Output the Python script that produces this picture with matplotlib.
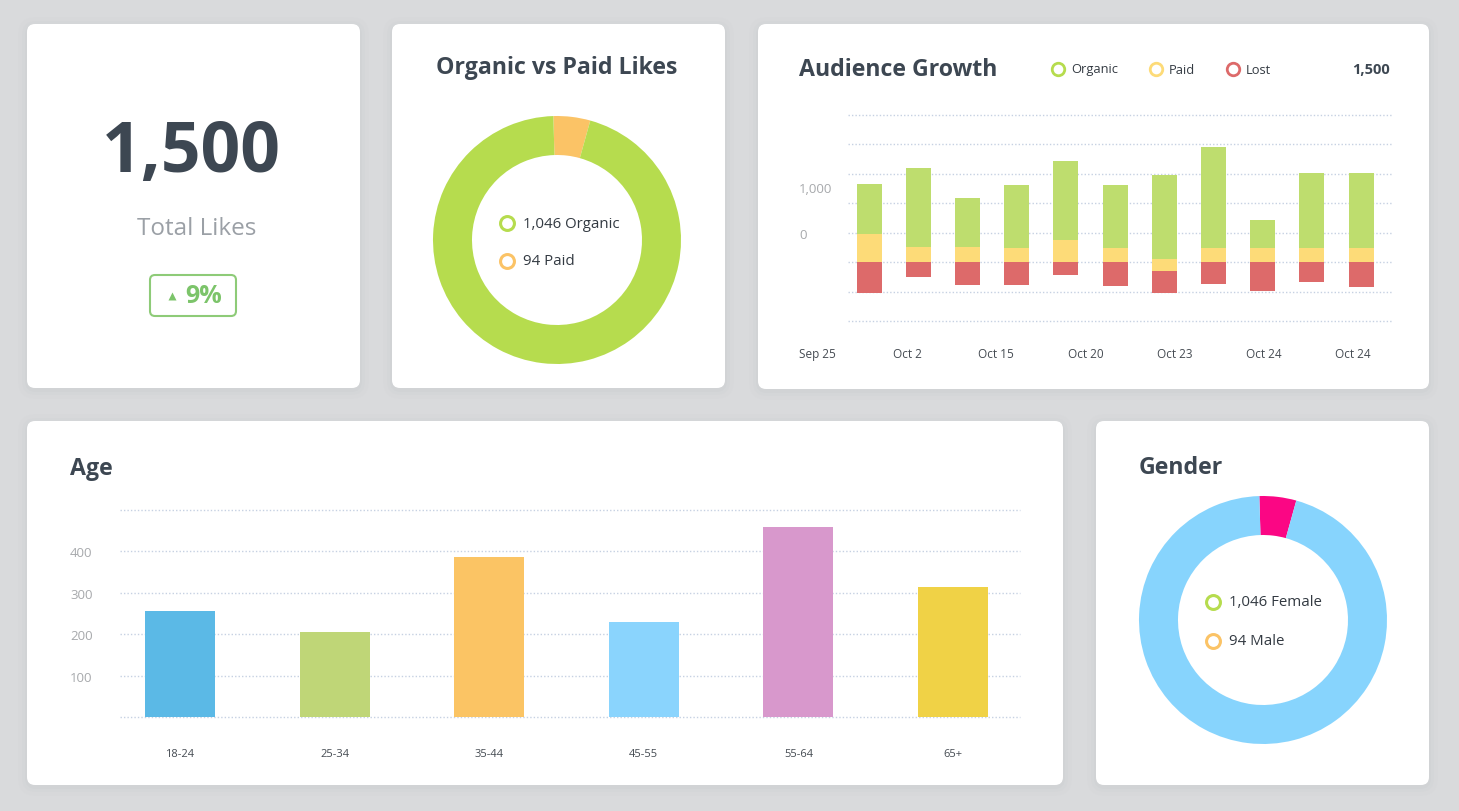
import numpy as np
import matplotlib
matplotlib.use("Agg")
import matplotlib.pyplot as plt
from matplotlib.patches import FancyBboxPatch

plt.rcParams['font.family'] = ['Open Sans', 'DejaVu Sans']

# ---------------- data ----------------
total_likes = "1,500"
growth_pct = "9%"

likes_labels = ["Organic", "Paid"]
likes_values = [1046, 94]          # values shown in the legend
likes_share = [95.2, 4.8]          # slice share as drawn

dates = ["Sep 25", "Oct 2", "Oct 15", "Oct 20", "Oct 23", "Oct 24", "Oct 24"]
organic = [173, 269, 166, 216, 269, 216, 286, 344, 97, 256, 256]
paid = [94, 51, 52, 47, 74, 47, 40, 47, 47, 47, 47]
lost = [106, 49, 79, 76, 44, 82, 74, 73, 99, 68, 86]
split = [0, 0, 0, 0, 0, 0, -31, 0, 0, 0, 0]
growth_ytick_labels = ["0", "1,000"]
growth_ytick_vals = [100, 255]

age_groups = ["18-24", "25-34", "35-44", "45-55", "55-64", "65+"]
age_values = [256, 205, 387, 229, 459, 314]
age_colors = ["#5bb9e6", "#bfd677", "#fbc464", "#8ad4fd", "#d898cc", "#f0d246"]

gender_labels = ["Female", "Male"]
gender_values = [1046, 94]
gender_share = [95.2, 4.8]

# ---------------- styles ----------------
W, H = 1459, 812
DARK = "#3d4752"
GRID = "#c6d1e2"
C_ORG = "#bedd6e"
C_PAID = "#fddb78"
C_LOST = "#dd6a6a"
D_GREEN = "#b6dc4e"
D_ORANGE = "#fbc366"
D_BLUE = "#87d4fd"
D_PINK = "#fb0684"
TITLE_FS = 16.7

fig = plt.figure(figsize=(W / 100, H / 100), dpi=100)
fig.patch.set_facecolor("#d9dadc")

bg = fig.add_axes([0, 0, 1, 1])
bg.set_xlim(0, W)
bg.set_ylim(H, 0)
bg.axis("off")
bg.set_zorder(0)


def px_axes(x0, y0, x1, y1):
    a = fig.add_axes([x0 / W, 1 - y1 / H, (x1 - x0) / W, (y1 - y0) / H])
    a.set_zorder(2)
    a.patch.set_alpha(0)
    return a


cards = [(27, 25, 360, 389), (392, 25, 725, 389), (758, 25, 1429, 390),
         (27, 422, 1063, 786), (1096, 422, 1429, 786)]
for (x0, y0, x1, y1) in cards:
    for k, a in [(10, 0.025), (6, 0.035), (3, 0.05)]:
        bg.add_patch(FancyBboxPatch((x0 - k + 1, y0 - k + 3), x1 - x0 + 2 * k - 2, y1 - y0 + 2 * k - 2,
                                    boxstyle="round,pad=0,rounding_size=%d" % (8 + k),
                                    fc="#9aa3ad", ec="none", alpha=a))
    bg.add_patch(FancyBboxPatch((x0, y0), x1 - x0, y1 - y0,
                                boxstyle="round,pad=0,rounding_size=8",
                                fc="white", ec="none"))

# ---------------- card 1: total likes ----------------
bg.text(191, 154, total_likes, ha="center", va="center", fontsize=50,
        fontweight="bold", color=DARK)
bg.text(197, 229, "Total Likes", ha="center", va="center", fontsize=17.5,
        color="#9ba0a6")
bg.add_patch(FancyBboxPatch((150, 276), 86, 41, boxstyle="round,pad=0,rounding_size=5",
                            fc="white", ec="#8ecb78", lw=1.5))
bg.plot([172], [297], marker="^", ms=6, color="#7cc46a", mec="none")
bg.text(185, 297, growth_pct, ha="left", va="center", fontsize=18,
        fontweight="bold", color="#7cc46a")

# ---------------- card 2: organic vs paid ----------------
bg.text(557, 68, "Organic vs Paid Likes", ha="center", va="center", fontsize=TITLE_FS,
        fontweight="bold", color=DARK)
ax2 = px_axes(433, 117, 681, 365)
ax2.pie(likes_share[::-1], colors=[D_ORANGE, D_GREEN], startangle=91.7, counterclock=False,
        radius=1, wedgeprops=dict(width=1 - 85 / 124, edgecolor="none"))
ax2.set_xlim(-1, 1)
ax2.set_ylim(-1, 1)
ax2.set_aspect("equal")
ax2.axis("off")
for i, (lab, val, col) in enumerate(zip(likes_labels, likes_values, [D_GREEN, D_ORANGE])):
    y = 224 + 38 * i
    bg.plot([507], [y], "o", ms=10, mfc="white", mec=col, mew=2.2)
    bg.text(523, y, f"{val:,} {lab}", ha="left", va="center", fontsize=10.8, color="#333a42")

# ---------------- card 3: audience growth ----------------
bg.text(799, 70, "Audience Growth", ha="left", va="center", fontsize=TITLE_FS,
        fontweight="bold", color=DARK)
for lab, col, x in zip(["Organic", "Paid", "Lost"], [D_GREEN, C_PAID, C_LOST], [1058, 1156, 1233]):
    bg.plot([x], [70], "o", ms=9, mfc="white", mec=col, mew=2)
    bg.text(x + 13, 70, lab, ha="left", va="center", fontsize=9.3, color="#333a42")
bg.text(1390, 70, total_likes, ha="right", va="center", fontsize=10.5,
        fontweight="bold", color=DARK)

xg = np.arange(len(organic))
step = 49.2
xlo = (799 - 869) / step
xhi = (1393 - 869) / step
ax3 = px_axes(799, 116, 1393, 322)
ax3.set_xlim(xlo, xhi)
ax3.set_ylim(-200, 500)
for gv in range(-200, 501, 100):
    ax3.hlines(gv, (848 - 869) / step, xhi, colors=GRID, linestyles=(0, (1, 1.5)), lw=1,
               zorder=0, clip_on=False)
bw = 25 / step
sp = np.array(split)
ax3.bar(xg, -np.array(lost), bottom=sp, width=bw, color=C_LOST, zorder=2)
ax3.bar(xg, paid, bottom=sp, width=bw, color=C_PAID, zorder=2)
ax3.bar(xg, organic, bottom=sp + np.array(paid), width=bw, color=C_ORG, zorder=2)
for s in ax3.spines.values():
    s.set_visible(False)
ax3.set_yticks(growth_ytick_vals, growth_ytick_labels)
ax3.tick_params(axis="y", length=0, pad=0, labelsize=9.5, labelcolor="#a7a9ac")
for t in ax3.get_yticklabels():
    t.set_horizontalalignment("left")
ax3.set_xticks(np.linspace(-1.04, 9.84, len(dates)), dates)
ax3.tick_params(axis="x", length=0, pad=19, labelsize=8.5, labelcolor="#454b52")

# ---------------- card 4: age ----------------
bg.text(70, 469, "Age", ha="left", va="center", fontsize=TITLE_FS, fontweight="bold", color=DARK)
ax4 = px_axes(70, 511, 1020, 718)
astep = 154.6
ax4.set_xlim((70 - 180) / astep, (1020 - 180) / astep)
ax4.set_ylim(0, 500)
for gv in range(0, 501, 100):
    ax4.hlines(gv, (120 - 180) / astep, (1020 - 180) / astep, colors=GRID,
               linestyles=(0, (1, 1.5)), lw=1, zorder=0, clip_on=False)
xa = np.arange(len(age_groups))
ax4.bar(xa, age_values, width=70 / astep, color=age_colors, zorder=2)
for s in ax4.spines.values():
    s.set_visible(False)
ax4.set_yticks([100, 200, 300, 400])
ax4.tick_params(axis="y", length=0, pad=0, labelsize=9.5, labelcolor="#a7a9ac")
for t in ax4.get_yticklabels():
    t.set_horizontalalignment("left")
ax4.set_xticks(xa, age_groups)
ax4.tick_params(axis="x", length=0, pad=22, labelsize=8, labelcolor="#454b52")

# ---------------- card 5: gender ----------------
bg.text(1139, 468, "Gender", ha="left", va="center", fontsize=TITLE_FS, fontweight="bold", color=DARK)
ax5 = px_axes(1139, 497, 1387, 745)
ax5.pie(gender_share[::-1], colors=[D_PINK, D_BLUE], startangle=91.7, counterclock=False,
        radius=1, wedgeprops=dict(width=1 - 85 / 124, edgecolor="none"))
ax5.set_xlim(-1, 1)
ax5.set_ylim(-1, 1)
ax5.set_aspect("equal")
ax5.axis("off")
for i, (lab, val, col) in enumerate(zip(gender_labels, gender_values, [D_GREEN, D_ORANGE])):
    y = 603 + 39 * i
    bg.plot([1213], [y], "o", ms=10, mfc="white", mec=col, mew=2.2)
    bg.text(1229, y, f"{val:,} {lab}", ha="left", va="center", fontsize=10.8, color="#333a42")

fig.savefig("out.png", dpi=100, facecolor=fig.get_facecolor())
